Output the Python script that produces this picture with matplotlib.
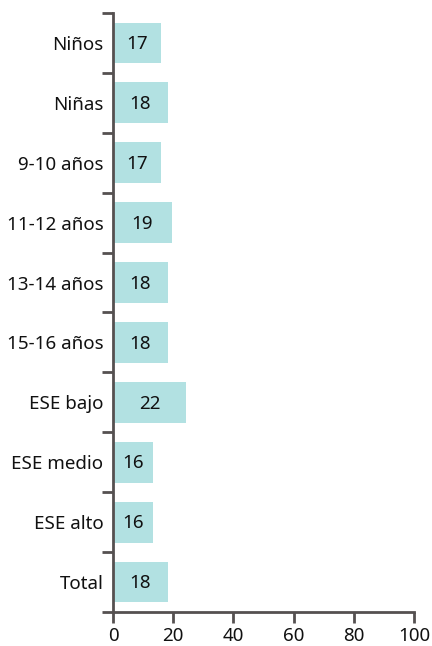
import matplotlib
matplotlib.use("Agg")
import matplotlib.pyplot as plt
from matplotlib.ticker import FixedLocator

categories = ["Niños", "Niñas", "9-10 años", "11-12 años", "13-14 años",
              "15-16 años", "ESE bajo", "ESE medio", "ESE alto", "Total"]
# longueur des barres telle que dessinee
bar_values = [16.0, 18.3, 16.0, 19.6, 18.3, 18.3, 24.3, 13.3, 13.3, 18.3]
# etiquettes affichees dans les barres
bar_labels = [17, 18, 17, 19, 18, 18, 22, 16, 16, 18]
x_ticks = [0, 20, 40, 60, 80, 100]

plt.rcParams["font.family"] = ["Noto Sans", "DejaVu Sans"]

axis_color = "#555050"
bar_color = "#b2e1e2"
text_color = "#111111"
fs = 13.5

fig = plt.figure(figsize=(4.32, 6.46), dpi=100)
ax = fig.add_axes([113 / 432, 34 / 646, 301 / 432, 599 / 646])

ypos = list(range(len(categories)))
ax.barh(ypos, bar_values, height=0.68, color=bar_color)
for y, v, lab in zip(ypos, bar_values, bar_labels):
    ax.text(v / 2, y + 0.02, str(lab), ha="center", va="center",
            fontsize=fs, color=text_color)

ax.set_xlim(0, 100)
ax.set_ylim(len(categories) - 0.5, -0.5)
ax.set_xticks(x_ticks)
ax.set_xticklabels([str(t) for t in x_ticks], fontsize=fs, color=text_color)

ax.yaxis.set_major_locator(FixedLocator([i - 0.5 for i in range(len(categories) + 1)]))
ax.yaxis.set_major_formatter(plt.NullFormatter())
ax.yaxis.set_minor_locator(FixedLocator(ypos))
ax.set_yticklabels(categories, minor=True, fontsize=fs, color=text_color)
ax.tick_params(axis="y", which="minor", length=0, pad=7)
ax.tick_params(axis="y", which="major", length=8, width=2, color=axis_color)
ax.tick_params(axis="x", length=8, width=2, color=axis_color, pad=3)

for side in ["top", "right"]:
    ax.spines[side].set_visible(False)
for side in ["left", "bottom"]:
    ax.spines[side].set_color(axis_color)
    ax.spines[side].set_linewidth(2)

fig.savefig("out.png", dpi=100)
